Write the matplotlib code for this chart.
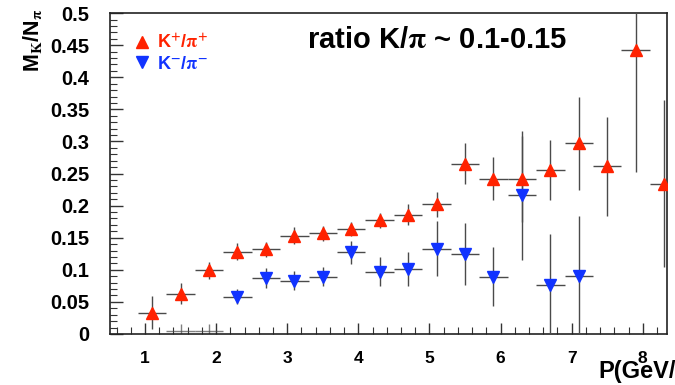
import matplotlib
matplotlib.use('Agg')
import matplotlib.pyplot as plt
from matplotlib.ticker import MultipleLocator, FuncFormatter
from matplotlib.lines import Line2D

# ---------------- data ----------------
bin_halfwidth = 0.2

kp_x = [1.1, 1.5, 1.9, 2.3, 2.7, 3.1, 3.5, 3.9, 4.3, 4.7, 5.1, 5.5, 5.9, 6.3, 6.7, 7.1, 7.5, 7.9, 8.3]
kp_ratio = [0.033, 0.063, 0.099, 0.128, 0.132, 0.153, 0.157, 0.164, 0.177, 0.186, 0.202,
            0.265, 0.242, 0.242, 0.255, 0.297, 0.261, 0.443, 0.234]
kp_err = [0.026, 0.016, 0.013, 0.013, 0.012, 0.013, 0.012, 0.011, 0.012, 0.016, 0.020,
          0.032, 0.033, 0.067, 0.047, 0.072, 0.077, 0.190, 0.130]

km_x = [2.3, 2.7, 3.1, 3.5, 3.9, 4.3, 4.7, 5.1, 5.5, 5.9, 6.3, 6.7, 7.1]
km_ratio = [0.058, 0.087, 0.083, 0.089, 0.127, 0.097, 0.101, 0.133, 0.125, 0.089, 0.216, 0.076, 0.091]
km_err = [0.012, 0.016, 0.015, 0.015, 0.018, 0.023, 0.027, 0.043, 0.048, 0.046, 0.100, 0.080, 0.093]

# K-/pi- bins with (near) zero content
km0_x = [1.5, 1.9]
km0_ratio = [0.004, 0.004]
km0_err = [0.012, 0.012]

x_ticks = [1, 2, 3, 4, 5, 6, 7, 8]
y_ticks = [0, 0.05, 0.1, 0.15, 0.2, 0.25, 0.3, 0.35, 0.4, 0.45, 0.5]

label_kp = r'K$^{+}$/$\mathrm{\pi}^{+}$'
label_km = r'K$^{-}$/$\mathrm{\pi}^{-}$'
title_text = r'ratio K/$\mathrm{\pi}$ ~ 0.1-0.15'
ylabel_text = r'M$_{\mathsf{K}}$/N$_{\mathrm{\pi}}$'
xlabel_text = 'P(GeV/c)'

# ---------------- style ----------------
plt.rcParams['font.family'] = ['Liberation Sans', 'DejaVu Sans']
plt.rcParams['font.weight'] = 'bold'
plt.rcParams['mathtext.fontset'] = 'stix'

RED = '#ff2200'
BLUE = '#1133ff'
ECOL = '#4a4a4a'

fig = plt.figure(figsize=(6.75, 3.85), dpi=100)
fig.patch.set_facecolor('white')
ax = fig.add_axes([0.163, 0.1325, 0.825, 0.8335])

ax.errorbar(km0_x, km0_ratio, yerr=km0_err, xerr=bin_halfwidth, fmt='none',
            ecolor=ECOL, elinewidth=1.0, alpha=0.7, capsize=0, zorder=2)
ax.errorbar(kp_x, kp_ratio, yerr=kp_err, xerr=bin_halfwidth, fmt='^', color=RED,
            mec=RED, ms=9, ecolor=ECOL, elinewidth=1.0, capsize=0, zorder=3)
ax.errorbar(km_x, km_ratio, yerr=km_err, xerr=bin_halfwidth, fmt='v', color=BLUE,
            mec=BLUE, ms=9, ecolor=ECOL, elinewidth=1.0, capsize=0, zorder=3)

ax.set_xlim(0.508, 8.34)
ax.set_ylim(0, 0.5)

ax.xaxis.set_major_locator(plt.FixedLocator(x_ticks))
ax.xaxis.set_minor_locator(MultipleLocator(0.2))
ax.yaxis.set_major_locator(plt.FixedLocator(y_ticks))
ax.yaxis.set_minor_locator(MultipleLocator(0.01))
ax.yaxis.set_major_formatter(FuncFormatter(lambda v, p: '%g' % v))
ax.xaxis.set_major_formatter(FuncFormatter(lambda v, p: '%g' % v))

ax.tick_params(axis='y', which='both', direction='in', left=True, right=False, color='#333333')
ax.tick_params(axis='y', which='major', length=9, width=1, pad=15, labelsize=14.5)
ax.tick_params(axis='y', which='minor', length=5, width=0.8)
ax.tick_params(axis='x', which='both', direction='in', bottom=True, top=False, color='#333333')
ax.tick_params(axis='x', which='major', length=8, width=1, pad=12, labelsize=12.5)
ax.tick_params(axis='x', which='minor', length=5, width=0.8)

for s in ax.spines.values():
    s.set_linewidth(1.2)
    s.set_color('#222222')

handles = [Line2D([], [], ls='none', marker='^', color=RED, ms=9),
           Line2D([], [], ls='none', marker='v', color=BLUE, ms=9)]
leg = ax.legend(handles, [label_kp, label_km], loc='upper left',
                bbox_to_anchor=(0.042, 0.935), frameon=False, fontsize=13,
                handlelength=1.0, handletextpad=0.3, labelspacing=0.2,
                borderpad=0, borderaxespad=0)
for t, c in zip(leg.get_texts(), [RED, BLUE]):
    t.set_color(c)

ax.text(0.354, 0.915, title_text, transform=ax.transAxes, fontsize=21,
        fontweight='bold', ha='left', va='center')

fig.text(33 / 675, 1 - 8 / 385, ylabel_text, rotation=90, fontsize=15.5,
         fontweight='bold', ha='center', va='top')
fig.text(598 / 675, 1 - 383 / 385, xlabel_text, fontsize=17, fontweight='bold',
         ha='left', va='bottom')

fig.savefig('out.png', dpi=100)
